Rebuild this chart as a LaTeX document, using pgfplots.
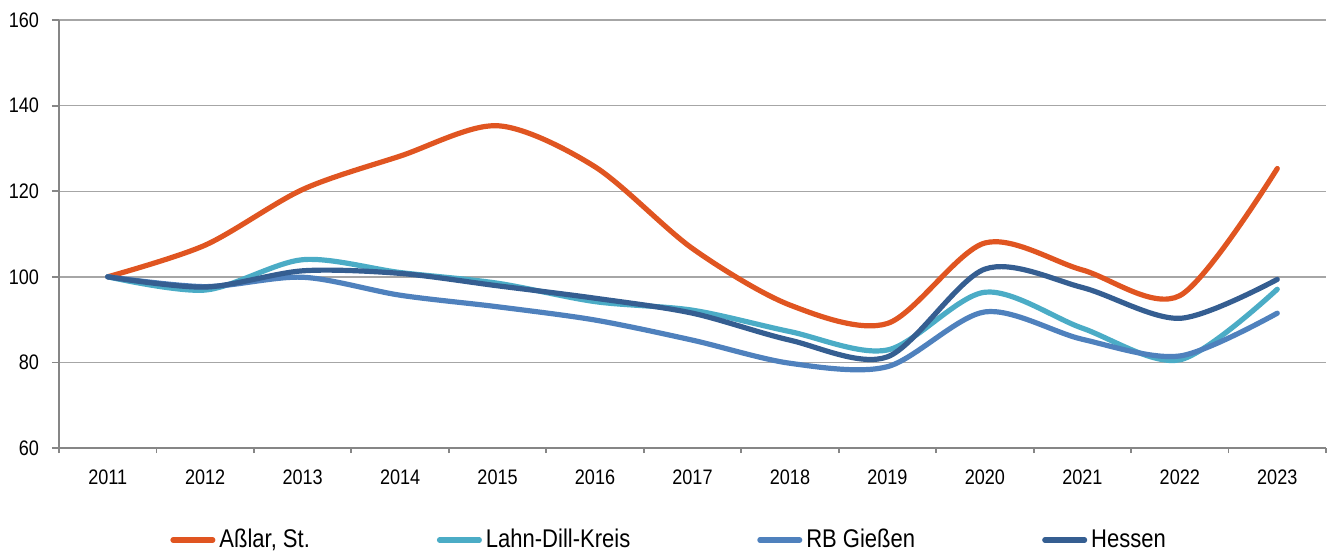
\documentclass[border=0pt]{standalone}
\usepackage{fontspec}
\setmainfont{Liberation Sans}[FakeStretch=0.86]
\usepackage{pgfplots}
\pgfplotsset{compat=1.18}
\definecolor{cOrange}{HTML}{E05521}
\definecolor{cTeal}{HTML}{4BACC6}
\definecolor{cBlue}{HTML}{4F81BD}
\definecolor{cDark}{HTML}{355E91}
\definecolor{cGrid}{HTML}{A6A6A6}
\definecolor{cAxis}{HTML}{868686}
\begin{document}
\begin{tikzpicture}
\useasboundingbox (-29.5pt,-52.5pt) rectangle (635pt,224pt);
\begin{axis}[
  at={(0pt,0pt)}, anchor=south west,
  scale only axis, width=633.5pt, height=214pt,
  xmin=-0.5, xmax=12.5, ymin=60, ymax=160,
  axis x line=bottom, axis y line=left,
  axis line style={-, cAxis, line width=0.9pt},
  xtick={0,...,12},
  xticklabels={2011,2012,2013,2014,2015,2016,2017,2018,2019,2020,2021,2022,2023},
  major x tick style={draw=none},
  minor xtick={-0.5,0.5,...,12.5},
  minor x tick style={cAxis, line width=0.9pt},
  minor tick length=2.5pt,
  ytick={60,80,...,160},
  major y tick style={cAxis, line width=0.9pt},
  major tick length=3.5pt,
  tick align=outside,
  ymajorgrids, grid style={cGrid, line width=0.7pt},
  /pgf/number format/assume math mode=true,
  tick label style={font=\fontsize{10.5pt}{12pt}\selectfont, black},
  xticklabel style={yshift=-4pt},
  yticklabel style={xshift=-3pt},
  legend columns=4,
  legend style={at={(0.0876,-0.215)}, anchor=west, draw=none, inner sep=0pt,
    font=\fontsize{12.8pt}{14pt}\selectfont,
    /tikz/every even column/.append style={column sep=61.5pt}},
  legend cell align=left,
  legend image code/.code={\draw[#1, line width=2.6pt, line cap=round] (1.3pt,0pt) -- (21.2pt,0pt);},
  every axis plot/.append style={line width=2.6pt, line cap=round, smooth, tension=0.5},
]
\addplot[cOrange] coordinates {(0,100) (1,107.4) (2,120.4) (3,128.2) (4,135.3) (5,125.7) (6,106.6) (7,93.4) (8,89.1) (9,107.9) (10,101.6) (11,95.6) (12,125.3)};
\addlegendentry{Aßlar, St.}
\addplot[cTeal] coordinates {(0,100) (1,96.9) (2,104.0) (3,101.0) (4,98.5) (5,94.2) (6,92.2) (7,87.2) (8,82.9) (9,96.4) (10,88.0) (11,80.6) (12,97.1)};
\addlegendentry{Lahn-Dill-Kreis}
\addplot[cBlue] coordinates {(0,100) (1,97.7) (2,99.9) (3,95.7) (4,93.0) (5,89.9) (6,85.2) (7,79.8) (8,79.0) (9,91.8) (10,85.4) (11,81.5) (12,91.5)};
\addlegendentry{RB Gießen}
\addplot[cDark] coordinates {(0,100) (1,97.6) (2,101.4) (3,100.8) (4,97.9) (5,95.0) (6,91.5) (7,85.2) (8,81.3) (9,101.8) (10,97.5) (11,90.3) (12,99.4)};
\addlegendentry{Hessen}
\end{axis}
\end{tikzpicture}
\end{document}
